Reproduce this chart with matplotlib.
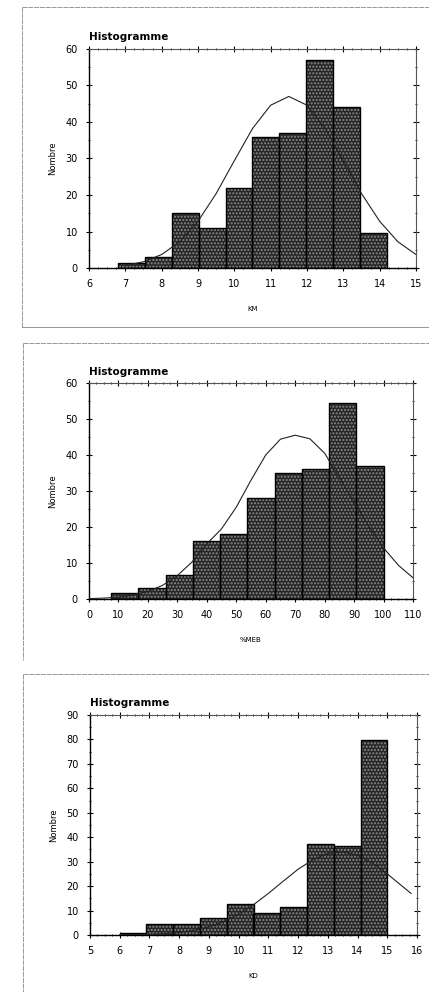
import numpy as np
import matplotlib.pyplot as plt
from matplotlib.lines import Line2D
from matplotlib.ticker import MultipleLocator

# Panel 1 : KM
km_edges = [6.8, 7.54, 8.28, 9.02, 9.76, 10.5, 11.24, 11.98, 12.72, 13.46, 14.2]
km_counts = [1.5, 3, 15, 11, 22, 36, 37, 57, 44, 9.5]
km_curve_x = [7.0, 7.5, 8.0, 8.5, 9.0, 9.5, 10.0, 10.5, 11.0, 11.5, 12.0, 12.5, 13.0, 13.5, 14.0, 14.5, 15.0]
km_curve_y = [0.7, 1.7, 3.7, 7.2, 12.8, 20.4, 29.4, 38.2, 44.6, 47.0, 44.6, 38.2, 29.4, 20.4, 12.8, 7.2, 3.7]

# Panel 2 : %MEB
meb_edges = [7.5, 16.75, 26.0, 35.25, 44.5, 53.75, 63.0, 72.25, 81.5, 90.75, 100.0]
meb_counts = [1.7, 3.1, 6.8, 16, 18, 28, 35, 36, 54.5, 37]
meb_curve_x = [0, 5, 10, 15, 20, 25, 30, 35, 40, 45, 50, 55, 60, 65, 70, 75, 80, 85, 90, 95, 100, 105, 110]
meb_curve_y = [0.1, 0.25, 0.5, 1.1, 2.1, 3.8, 6.5, 10.3, 15.3, 19.5, 25.5, 33.0, 40.0, 44.4, 45.5, 44.5, 40.5, 33.7, 26.9, 20.2, 14.2, 9.4, 5.9]

# Panel 3 : KD
kd_edges = [6.0, 6.9, 7.8, 8.7, 9.6, 10.5, 11.4, 12.3, 13.2, 14.1, 15.0]
kd_counts = [1, 4.5, 4.5, 7, 12.5, 9, 11.3, 37.3, 36.5, 79.7]
kd_curve_x = [6.0, 6.5, 7.0, 7.5, 8.0, 8.5, 9.0, 9.5, 10.0, 10.5, 11.0, 11.5, 12.0, 12.5, 13.0, 13.5, 14.0, 14.5, 15.0, 15.5, 15.8]
kd_curve_y = [0.05, 0.1, 0.25, 0.5, 1.0, 1.9, 3.3, 5.5, 8.5, 12.4, 17.0, 22.0, 26.9, 30.8, 33.4, 34.0, 32.6, 29.4, 25.0, 20.0, 17.0]

panels = [
    dict(edges=km_edges, counts=km_counts, cx=km_curve_x, cy=km_curve_y, xlabel="KM",
         xlim=(6, 15), xmajor=1, xminor=0.25, ylim=(0, 60), ymajor=10, yminor=5,
         rect=[89 / 429, 1 - 268 / 992, 327 / 429, 219 / 992]),
    dict(edges=meb_edges, counts=meb_counts, cx=meb_curve_x, cy=meb_curve_y, xlabel="%MEB",
         xlim=(0, 110), xmajor=10, xminor=2.5, ylim=(0, 60), ymajor=10, yminor=5,
         rect=[89 / 429, 1 - 599 / 992, 324 / 429, 216 / 992]),
    dict(edges=kd_edges, counts=kd_counts, cx=kd_curve_x, cy=kd_curve_y, xlabel="KD",
         xlim=(5, 16), xmajor=1, xminor=0.25, ylim=(0, 90), ymajor=10, yminor=5,
         rect=[90 / 429, 1 - 935 / 992, 327 / 429, 220 / 992]),
]

fig = plt.figure(figsize=(4.29, 9.92), dpi=100)

# faint scan frames around each panel
frames = [(22, 7, 327), (23, 343, 660), (23, 674, 992)]
for x0, y0, y1 in frames:
    fx0 = x0 / 429
    fig.add_artist(Line2D([fx0, 1.0], [1 - y0 / 992, 1 - y0 / 992], transform=fig.transFigure,
                          color="#888888", lw=0.6, ls=(0, (6, 1))))
    fig.add_artist(Line2D([fx0, fx0], [1 - y0 / 992, 1 - y1 / 992], transform=fig.transFigure,
                          color="#888888", lw=0.6, ls=(0, (6, 1))))
fig.add_artist(Line2D([22 / 429, 1.0], [1 - 327 / 992, 1 - 327 / 992], transform=fig.transFigure,
                      color="#888888", lw=0.6))

for p in panels:
    ax = fig.add_axes(p["rect"])
    edges = np.array(p["edges"])
    widths = np.diff(edges)
    ax.bar(edges[:-1], p["counts"], width=widths, align="edge", color="#262626",
           hatch=".....", edgecolor="#8c8c8c", linewidth=0, zorder=2)
    ax.bar(edges[:-1], p["counts"], width=widths, align="edge", fill=False,
           edgecolor="black", linewidth=1.0, zorder=3)
    ax.plot(p["cx"], p["cy"], color="#222222", lw=0.8, zorder=4)

    ax.set_xlim(*p["xlim"])
    ax.set_ylim(*p["ylim"])
    ax.xaxis.set_major_locator(MultipleLocator(p["xmajor"]))
    ax.xaxis.set_minor_locator(MultipleLocator(p["xminor"]))
    ax.yaxis.set_major_locator(MultipleLocator(p["ymajor"]))
    ax.yaxis.set_minor_locator(MultipleLocator(p["yminor"]))
    ax.tick_params(which="both", direction="inout", top=True, right=True, labelsize=7, pad=6)
    ax.tick_params(which="major", length=4, width=0.8)
    ax.tick_params(which="minor", length=2, width=0.6)
    for side in ["top", "right"]:
        ax.spines[side].set_color("#555555")
        ax.spines[side].set_linewidth(0.8)
    for side in ["left", "bottom"]:
        ax.spines[side].set_linewidth(1.0)

    ax.set_ylabel("Nombre", fontsize=6, labelpad=6)
    ax.set_xlabel(p["xlabel"], fontsize=5, labelpad=12)
    ax.text(0.0, 1.03, "Histogramme", transform=ax.transAxes, fontsize=7.5,
            fontweight="bold", ha="left", va="bottom")

fig.savefig("out.png", dpi=100, facecolor="white")
